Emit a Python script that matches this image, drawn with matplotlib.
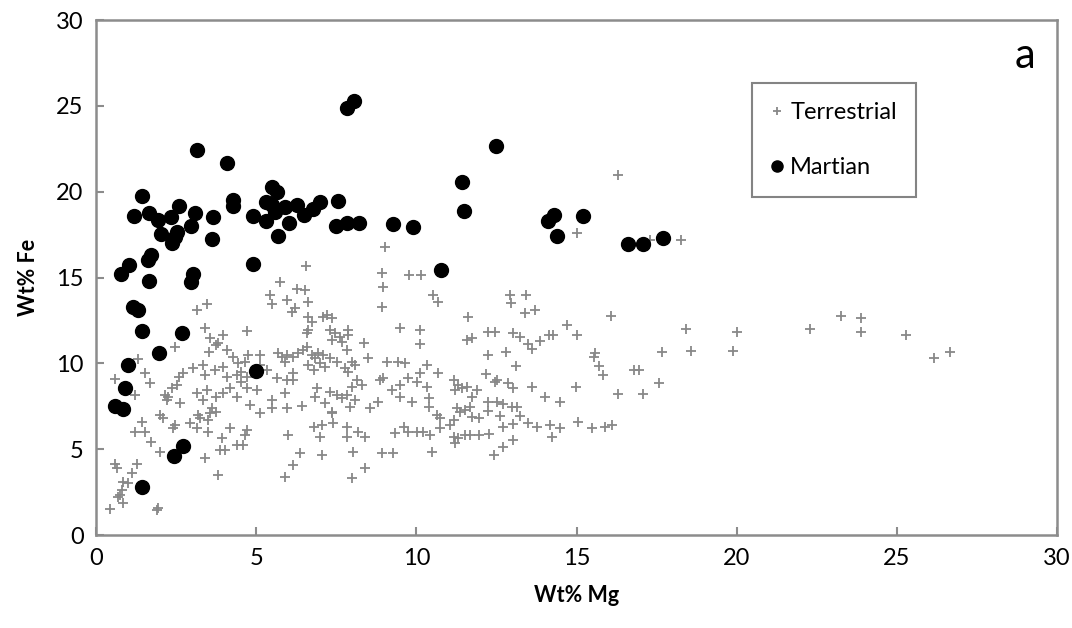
import numpy as np
import matplotlib
matplotlib.use("Agg")
import matplotlib.pyplot as plt

plt.rcParams["font.family"] = ["Lato", "DejaVu Sans"]

# Martian meteorite compositions (wt% Mg, wt% Fe)
mars_mg = [3.14, 4.10, 1.43, 1.18, 1.66, 1.93, 2.34, 2.59, 3.10, 2.97, 2.52, 2.47, 2.36, 2.03,
           3.66, 3.63, 4.29, 4.26, 4.89, 5.49, 5.64, 5.30, 5.49, 5.59, 5.90, 5.30, 5.67, 4.89,
           1.72, 1.63, 1.03, 0.78, 1.66, 3.04, 2.96, 1.15, 1.32, 1.43, 2.68, 1.98, 0.99, 0.91,
           0.59, 0.85, 4.99, 2.73, 2.44, 1.43, 6.27, 6.49, 6.78, 6.99, 6.03, 7.56, 7.49, 7.83,
           8.22, 9.26, 9.89, 11.42, 11.50, 10.77, 14.12, 14.30, 15.21, 14.38, 16.62, 17.06,
           17.69, 7.84, 8.06, 12.49]
mars_fe = [22.42, 21.65, 19.74, 18.60, 18.74, 18.35, 18.54, 19.16, 18.77, 18.00, 17.66, 17.37,
           16.99, 17.51, 18.54, 17.24, 19.51, 19.16, 18.60, 20.29, 19.99, 19.41, 19.22, 18.83,
           19.09, 18.29, 17.43, 15.82, 16.31, 16.02, 15.73, 15.20, 14.81, 15.20, 14.75, 13.26,
           13.10, 11.90, 11.78, 10.58, 9.90, 8.54, 7.51, 7.32, 9.55, 5.20, 4.62, 2.81, 19.22,
           18.64, 18.97, 19.41, 18.19, 19.47, 18.00, 18.19, 18.19, 18.11, 17.96, 20.58, 18.87,
           15.43, 18.31, 18.64, 18.58, 17.43, 16.93, 16.93, 17.28, 24.87, 25.28, 22.66]

# terrestrial rocks, (wt% Mg, wt% Fe) pairs
terrestrial = np.array([
    (3.14, 13.11), (3.45, 13.46), (5.48, 13.46), (3.40, 12.04), (3.97, 11.65), (4.70, 11.90),
    (3.56, 11.46), (3.80, 11.20), (3.76, 11.07), (2.46, 10.97), (4.08, 10.78), (3.54, 10.68),
    (1.32, 10.23), (4.28, 10.35), (4.75, 10.49), (5.12, 10.49), (5.69, 10.58), (5.82, 10.39),
    (5.95, 10.49), (1.53, 9.46), (1.68, 8.84), (0.59, 9.09), (1.21, 8.16), (3.04, 9.71),
    (3.35, 9.90), (2.72, 9.42), (2.60, 9.22), (3.40, 9.32), (3.71, 9.61), (3.97, 9.81),
    (4.08, 9.22), (4.44, 10.00), (4.65, 10.10), (4.54, 9.52), (4.39, 9.32), (4.70, 9.22),
    (4.54, 8.93), (5.12, 9.90), (5.33, 9.61), (5.64, 9.13), (5.95, 9.03), (5.90, 10.10),
    (2.52, 8.74), (2.36, 8.54), (2.26, 8.06), (2.15, 8.16), (2.62, 7.67), (2.20, 7.86),
    (3.14, 8.25), (3.45, 8.45), (3.35, 7.86), (3.76, 8.06), (3.97, 8.25), (4.18, 8.54),
    (4.39, 8.06), (4.70, 8.54), (5.01, 8.45), (4.80, 7.57), (5.12, 7.09), (5.48, 7.86),
    (5.48, 7.38), (5.90, 8.25), (5.95, 7.38), (1.99, 6.99), (2.10, 6.80), (3.19, 6.99),
    (3.24, 6.80), (3.56, 7.09), (3.76, 7.19), (3.61, 7.38), (3.50, 6.70), (1.42, 6.60),
    (1.21, 6.02), (1.53, 6.02), (2.93, 6.51), (3.14, 6.21), (2.46, 6.41), (2.41, 6.21),
    (3.50, 6.02), (4.18, 6.21), (4.70, 6.12), (4.65, 5.83), (4.39, 5.24), (4.60, 5.24),
    (3.92, 5.63), (3.87, 4.95), (4.02, 4.95), (6.00, 5.83), (1.73, 5.44), (1.99, 4.85),
    (3.40, 4.47), (3.82, 3.50), (5.90, 3.40), (0.59, 4.14), (0.64, 3.88), (1.27, 4.14),
    (1.11, 3.59), (0.85, 3.11), (1.01, 3.01), (0.80, 2.62), (0.75, 2.33), (0.69, 2.23),
    (0.85, 1.85), (0.43, 1.50), (1.89, 1.46), (1.94, 1.55),
    (6.63, 13.59), (6.11, 13.01), (6.21, 13.20), (6.63, 12.72), (6.73, 12.43), (6.63, 11.94),
    (6.58, 11.75), (7.10, 12.72), (7.36, 12.62), (7.20, 12.82), (7.31, 11.94), (7.46, 11.75),
    (7.62, 11.55), (7.88, 11.94), (7.88, 11.65), (7.36, 11.36), (7.67, 11.26), (8.35, 11.17),
    (7.83, 10.78), (8.92, 13.30), (9.49, 12.04), (10.11, 11.94), (10.11, 11.11), (10.69, 13.59),
    (11.62, 12.72), (11.57, 11.36), (11.73, 11.46), (6.16, 10.39), (6.32, 10.58), (6.47, 10.78),
    (6.58, 10.97), (6.73, 10.49), (6.84, 10.29), (6.94, 10.58), (7.10, 10.49), (7.31, 10.29),
    (6.63, 9.90), (6.79, 9.61), (6.99, 10.00), (7.15, 9.81), (7.51, 10.10), (7.77, 9.71),
    (7.98, 10.10), (8.09, 9.90), (7.88, 9.52), (8.14, 9.03), (7.98, 8.64), (8.29, 8.74),
    (8.50, 10.29), (6.16, 9.42), (6.16, 9.03), (6.42, 7.52), (6.89, 8.54), (6.84, 8.06),
    (7.15, 7.67), (7.31, 8.35), (7.51, 8.16), (7.67, 7.96), (7.83, 8.16), (8.09, 7.86),
    (7.93, 7.48), (7.36, 7.19), (8.55, 7.38), (8.81, 7.77), (8.87, 9.03), (8.97, 9.13),
    (9.08, 10.10), (9.23, 8.45), (9.44, 10.10), (9.65, 10.00), (9.49, 8.74), (9.49, 8.06),
    (9.75, 9.13), (9.86, 7.77), (10.01, 8.93), (10.12, 9.42), (10.33, 9.90), (10.33, 8.64),
    (10.38, 7.96), (10.38, 7.48), (10.69, 9.42), (6.79, 6.31), (7.05, 6.41), (7.41, 6.51),
    (7.83, 6.31), (8.19, 6.02), (8.40, 5.73), (7.83, 5.73), (6.99, 5.73), (7.36, 7.09),
    (6.37, 4.76), (6.16, 4.08), (7.05, 4.66), (8.03, 4.85), (7.98, 3.30), (8.40, 3.88),
    (8.92, 4.76), (9.28, 4.76), (10.48, 4.85), (9.34, 5.92), (9.60, 6.31), (9.75, 6.02),
    (10.01, 6.02), (10.22, 6.02), (10.43, 5.83), (10.64, 6.99), (10.74, 6.80), (10.74, 6.21),
    (11.05, 6.41), (11.16, 6.70), (11.16, 5.73), (11.21, 5.34), (11.31, 5.63), (11.52, 5.83),
    (11.68, 5.83), (11.94, 5.83), (11.16, 9.03), (11.31, 8.74), (11.42, 8.54), (11.57, 8.64),
    (11.73, 8.06), (11.21, 8.45), (11.88, 8.45), (11.26, 7.38), (11.36, 7.19), (11.52, 7.28),
    (11.68, 7.48), (11.73, 6.89), (11.94, 6.80),
    (15.01, 17.57), (17.30, 17.18), (12.91, 13.98), (13.43, 13.98), (12.95, 13.49), (13.40, 12.95),
    (13.71, 13.14), (16.07, 12.75), (14.70, 12.23), (15.01, 11.65), (12.25, 11.84), (12.46, 11.84),
    (13.01, 11.78), (13.24, 11.55), (13.50, 11.12), (13.61, 10.81), (13.87, 11.32), (14.13, 11.65),
    (14.28, 11.65), (12.25, 10.48), (12.80, 10.68), (13.12, 9.84), (12.18, 9.41), (12.46, 8.93),
    (12.53, 9.02), (12.85, 8.83), (13.01, 8.54), (13.61, 8.60), (15.58, 10.58), (15.55, 10.38),
    (15.69, 9.84), (15.84, 9.32), (14.99, 8.64), (14.02, 8.05), (14.47, 7.76), (16.78, 9.61),
    (16.94, 9.61), (16.31, 8.21), (17.09, 8.21), (17.59, 8.83), (17.66, 10.68), (12.25, 7.76),
    (12.51, 7.76), (12.72, 7.63), (12.98, 7.47), (13.14, 7.47), (12.25, 7.24), (12.62, 6.93),
    (13.22, 6.93), (12.28, 5.88), (12.72, 6.31), (13.03, 6.46), (13.50, 6.50), (13.76, 6.31),
    (14.18, 6.40), (14.49, 6.21), (14.23, 5.72), (15.06, 6.60), (15.48, 6.21), (15.89, 6.31),
    (16.10, 6.40), (13.03, 5.53), (12.72, 5.14), (12.41, 4.66),
    (18.25, 17.18), (18.42, 12.03), (20.02, 11.84), (22.29, 11.99), (23.26, 12.75), (23.88, 12.67),
    (23.88, 11.84), (25.29, 11.68), (18.58, 10.71), (19.90, 10.71), (26.16, 10.34), (26.66, 10.67),
    (5.75, 14.75), (6.27, 14.31), (6.53, 14.27), (6.56, 15.67), (8.92, 15.28), (8.97, 14.46),
    (9.02, 16.79), (9.78, 15.14), (10.14, 15.14), (10.51, 13.98), (5.95, 13.69), (5.43, 13.98),
    (16.30, 20.97),
])
terr_mg = terrestrial[:, 0]
terr_fe = terrestrial[:, 1]

axis_grey = "#8c8c8c"

fig = plt.figure(figsize=(10.72, 6.28), dpi=100)
ax = fig.add_axes([0.0896, 0.148, 0.8964, 0.820])

ax.plot(terr_mg, terr_fe, linestyle="none", marker="+", markersize=7.5, mew=1.3,
        color="#888888", label="Terrestrial")
ax.plot(mars_mg, mars_fe, linestyle="none", marker="o", markersize=10,
        color="black", mec="black", label="Martian")

ax.set_xlim(0, 30)
ax.set_ylim(0, 30)
ax.set_xticks(range(0, 31, 5))
ax.set_yticks(range(0, 31, 5))
ax.tick_params(direction="in", length=6, width=1.5, color=axis_grey,
               labelsize=17, pad=9)
for s in ax.spines.values():
    s.set_color(axis_grey)
    s.set_linewidth(1.8)

ax.set_xlabel("Wt% Mg", fontsize=15.5, fontweight="bold", labelpad=12)
ax.set_ylabel("Wt% Fe", fontsize=15.5, fontweight="bold", labelpad=12)

ax.text(0.967, 0.93, "a", transform=ax.transAxes, fontsize=30,
        ha="center", va="center")

leg = ax.legend(loc="upper left", bbox_to_anchor=(0.683, 0.878), fontsize=17,
                frameon=True, fancybox=False, edgecolor="#666666",
                handlelength=0.5, handletextpad=0.3, labelspacing=1.45,
                borderpad=0.8, borderaxespad=0, markerscale=0.8)
leg.get_frame().set_linewidth(1.5)

fig.savefig("out.png", dpi=100)
